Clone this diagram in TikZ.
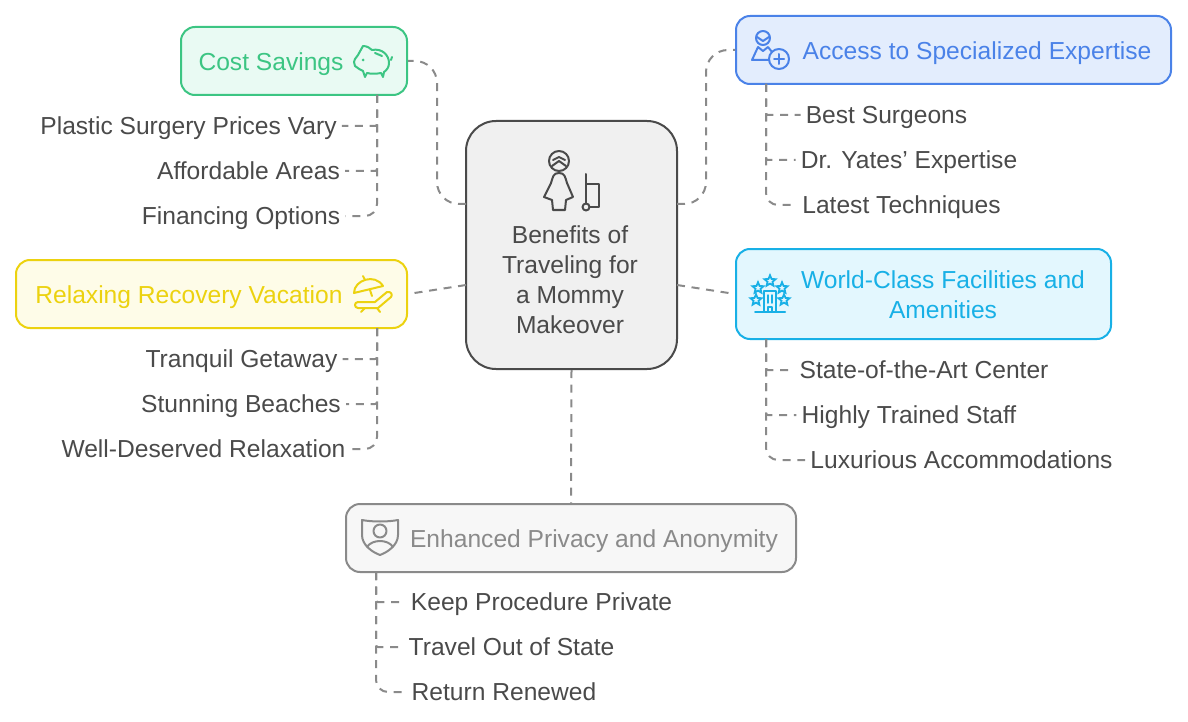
\documentclass[tikz,border=0pt]{standalone}
\usepackage{fontspec}
\setmainfont{Liberation Sans}
\usetikzlibrary{shapes.geometric}
\definecolor{linkgray}{HTML}{8A8A8A}
\definecolor{inkgray}{HTML}{4A4A4A}
\definecolor{greenline}{HTML}{3CC583}
\definecolor{greenfill}{HTML}{E9FAF3}
\definecolor{blueline}{HTML}{4A82E8}
\definecolor{bluefill}{HTML}{E3EDFD}
\definecolor{cyanline}{HTML}{18B0E6}
\definecolor{cyanfill}{HTML}{E3F7FE}
\definecolor{yellowline}{HTML}{ECD20F}
\definecolor{yellowfill}{HTML}{FEFCE8}
\definecolor{grayfill}{HTML}{F7F7F7}
\definecolor{centerfill}{HTML}{F0F0F0}
\begin{document}
\begin{tikzpicture}[x=1pt,y=-1pt]
    \tikzset{
        box/.style={draw, line width=2pt, rounded corners=14pt, inner sep=0pt},
        title/.style={font=\fontsize{24.6}{30}\selectfont, align=center, inner sep=0pt},
        oneline/.style={title, text height=17.5pt, text depth=0pt},
        leaf/.style={font=\fontsize{24.6}{30}\selectfont, text=inkgray, inner sep=5pt, text height=17.5pt, text depth=0pt},
        link/.style={draw=linkgray, line width=2pt, dash pattern=on 8pt off 6.7pt},
        icon/.style={line width=2pt, line cap=round, line join=round},
        hotelstar/.style={draw=cyanline, star, star points=5, star point ratio=2.2, minimum size=11.5pt, inner sep=0pt, line width=1.8pt}
    }
    \useasboundingbox (0,0) rectangle (1188,722);

    \draw node[box, draw=greenline, fill=greenfill, minimum width=226pt, minimum height=68pt] (cost) at (294,61) {};
    \draw node[box, draw=blueline, fill=bluefill, minimum width=435pt, minimum height=68pt] (access) at (953.5,50) {};
    \draw node[box, draw=cyanline, fill=cyanfill, minimum width=375pt, minimum height=90pt] (world) at (923.5,294) {};
    \draw node[box, draw=yellowline, fill=yellowfill, minimum width=391pt, minimum height=68pt] (relax) at (211.5,294) {};
    \draw node[box, draw=linkgray, fill=grayfill, minimum width=450pt, minimum height=68pt] (privacy) at (571,538) {};
    \draw node[box, draw=inkgray, fill=centerfill, rounded corners=30pt, minimum width=211pt, minimum height=248pt] (center) at (571.5,245) {};

    \draw node[title, text=inkgray] (centerlabel) at (570,280) {Benefits of\\Traveling for\\a Mommy\\Makeover};
    \draw node[oneline, text=greenline] (costlabel) at (271,62) {Cost Savings};
    \draw node[oneline, text=blueline] (accesslabel) at (977,51) {Access to Specialized Expertise};
    \draw node[title, text=cyanline] (worldlabel) at (943,295) {World-Class Facilities and\\Amenities};
    \draw node[oneline, text=yellowline] (relaxlabel) at (189,295) {Relaxing Recovery Vacation};
    \draw node[oneline, text=linkgray] (privacylabel) at (594,539) {Enhanced Privacy and Anonymity};

    \draw node[leaf] (plastic) at (188.5,126) {Plastic Surgery Prices Vary};
    \draw node[leaf] (areas) at (248.5,171) {Affordable Areas};
    \draw node[leaf] (financing) at (241,216) {Financing Options};
    \draw node[leaf] (tranquil) at (241.5,359) {Tranquil Getaway};
    \draw node[leaf] (beaches) at (241,404) {Stunning Beaches};
    \draw node[leaf] (deserved) at (203.5,449) {Well-Deserved Relaxation};
    \draw node[leaf] (surgeons) at (886.5,115) {Best Surgeons};
    \draw node[leaf] (yates) at (909,160) {Dr. Yates' Expertise};
    \draw node[leaf] (latest) at (901.5,205) {Latest Techniques};
    \draw node[leaf] (stateart) at (924,370) {State-of-the-Art Center};
    \draw node[leaf] (staff) at (909,415) {Highly Trained Staff};
    \draw node[leaf] (luxury) at (961.5,460) {Luxurious Accommodations};
    \draw node[leaf] (keep) at (541.5,602) {Keep Procedure Private};
    \draw node[leaf] (travel) at (511.5,647) {Travel Out of State};
    \draw node[leaf] (renewed) at (504,692) {Return Renewed};

    \coordinate (centerupw) at (466,204);
    \coordinate (centerupe) at (677,204);
    \coordinate (centerlow) at (466,285);
    \coordinate (centerloe) at (677,285);
    \coordinate (costtrunk) at (377,95);
    \coordinate (relaxtrunk) at (377,328);
    \coordinate (accesstrunk) at (766,84);
    \coordinate (worldtrunk) at (766,339);
    \coordinate (privacytrunk) at (376,572);

    \draw[link, rounded corners=22pt] (centerupw) -- (437,204) |- (cost.east);
    \draw[link, rounded corners=22pt] (centerupe) -- (706,204) |- (access.west);
    \draw[link] (centerlow) -- (relax.east);
    \draw[link] (centerloe) -- (world.west);
    \draw[link] (center.south) -- (privacy.north);

    \foreach \x/\y in {%
        costtrunk/plastic.east,costtrunk/areas.east,%
        relaxtrunk/tranquil.east,relaxtrunk/beaches.east,%
        accesstrunk/surgeons.west,accesstrunk/yates.west,%
        worldtrunk/stateart.west,worldtrunk/staff.west,%
        privacytrunk/keep.west,privacytrunk/travel.west%
    }{
    \draw[link, rounded corners=2pt] (\x) |- (\y);
    }
    \foreach \x/\y in {%
        costtrunk/financing.east,relaxtrunk/deserved.east,%
        accesstrunk/latest.west,worldtrunk/luxury.west,privacytrunk/renewed.west%
    }{
    \draw[link, rounded corners=12pt] (\x) |- (\y);
    }

    \draw[icon, greenline] (358,55) -- (363,46) .. controls (367,46) and (370,48) .. (372,50)
        .. controls (382,48) and (389,55) .. (389,63) .. controls (389,67) and (387,70) .. (384,72)
        -- (383,77) -- (381,73) .. controls (376,74) and (371,74) .. (367,73) -- (365,77) -- (363,71) .. controls (360,70) and (358,68) .. (355,66) -- (354,62) -- (355,59) -- cycle;
    \draw[icon, greenline] (375,53) -- (382,56) (391,60) -- (392,57);
    \fill[greenline] (363,60) circle (1.5pt);

    \draw[icon, inkgray] (559,161) circle (10pt);
    \draw[icon, inkgray] (553,160) -- (559,157) -- (565,160) (552,166) -- (559,161) -- (566,166);
    \draw[icon, inkgray] (559,173) .. controls (553,173) and (553,177) .. (551,183) -- (544,197)
        -- (552,200) -- (553,210) -- (565,210) -- (566,200) -- (573,197) -- (567,183) .. controls (565,177) and (565,173) .. (559,173) -- cycle;
    \draw[icon, inkgray] (586,174) -- (586,203) (586,184) -- (599,184) -- (599,207) -- (590,207);
    \draw[icon, inkgray] (586,207) circle (3.5pt);

    \draw[icon, blueline] (763,38) circle (7pt);
    \draw[icon, blueline] (757,37) -- (763,41) -- (769,37);
    \draw[icon, blueline] (758,47) -- (752,60) -- (769,60) (768,47) -- (772,52) (758,47) -- (763,51) -- (768,47);
    \draw[icon, blueline] (779,59) circle (10pt);
    \draw[icon, blueline] (779,54) -- (779,64) (774,59) -- (784,59);

    \foreach \x/\y/\n in {770/281/a,758/288/b,782/288/c,756/300/d,784/300/e}{
    \draw node[hotelstar] (star\n) at (\x,\y) {};
    }
    \draw[icon, cyanline, fill=cyanfill, line width=1.5pt] (764,312) -- (764,291) -- (776,291) -- (776,312);
    \draw[icon, cyanline, line width=1.5pt] (768,295) -- (768,303) (772,295) -- (772,303) (768,312) -- (768,307) -- (772,307) -- (772,312);
    \draw[icon, cyanline] (755,312) -- (785,312);

    \draw[icon, yellowline] (354,293) .. controls (354,280) and (375,273) .. (383,286) -- cycle;
    \draw[icon, yellowline] (363,276) -- (365,280) (370,290) -- (372,296);
    \draw[icon, yellowline] (358,302) -- (375,302) -- (387,292) .. controls (391,291) and (393,295) .. (391,297)
        -- (378,308) -- (358,308) .. controls (354,308) and (354,302) .. (358,302) -- cycle;
    \draw[icon, yellowline] (365,308) -- (361,312) (377,308) -- (380,312);

    \draw[icon, linkgray] (362,520) .. controls (372,522) and (388,522) .. (398,520) -- (398,535)
        .. controls (398,545) and (388,552) .. (380,555) .. controls (372,552) and (362,545) .. (362,535) -- cycle;
    \draw[icon, linkgray] (380,531) circle (6.5pt);
    \draw[icon, linkgray] (367,547) .. controls (372,539) and (388,539) .. (393,547);
\end{tikzpicture}
\end{document}
